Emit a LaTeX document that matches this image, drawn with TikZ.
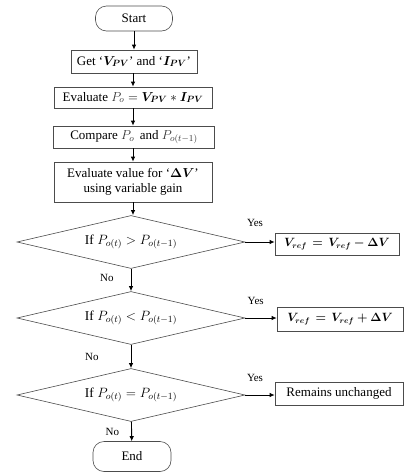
\RequirePackage{fix-cm}
\documentclass[tikz,border=0pt]{standalone}
\usepackage{amsmath}
\usepackage{bm}
\usepackage{fontspec}
\setmainfont{Liberation Serif}
\usetikzlibrary{shapes.geometric,arrows.meta}

\begin{document}
\begin{tikzpicture}[x=1pt, y=-1pt,
        box/.style={draw=black!70, line width=0.6pt, inner sep=2pt, align=center, font=\fontsize{13}{15.5}\selectfont},
        term/.style={box, rounded corners=11pt},
        decision/.style={draw=black!70, line width=0.6pt, diamond, aspect=4.3, inner sep=0pt, minimum width=228, minimum height=53, font=\fontsize{13.5}{16}\selectfont},
        flow/.style={-{Latex[length=5pt,width=4.5pt]}, line width=0.9pt},
        tag/.style={font=\fontsize{11}{13}\selectfont, inner sep=0pt}]
        \useasboundingbox (0,0) rectangle (404,474);

        \node [term, minimum width=77, minimum height=25] (start) at (134,18.5) {Start};
        \node [box, minimum width=126, minimum height=23] (get) at (134,61.5) {Get `$\bm{V_{PV}}$' and `$\bm{I_{PV}}$'};
        \node [box, minimum width=158, minimum height=21] (eval) at (133,97.5) {Evaluate $\textcolor{black!80}{P_o} = \bm{V_{PV}} * \bm{I_{PV}}$};
        \node [box, minimum width=161, minimum height=22] (comp) at (134,137) {Compare $\textcolor{black!80}{P_o}$\, and $\textcolor{black!80}{P_{o(t-1)}}$};
        \node [box, minimum width=158, minimum height=40] (gain) at (133,182) {Evaluate value for `$\bm{\Delta V}$'\\using variable gain};

        \node [decision] (dgt) at (131,242) {If $P_{o(t)} > P_{o(t-1)}$};
        \node [decision] (dlt) at (131,318) {If $P_{o(t)} < P_{o(t-1)}$};
        \node [decision] (deq) at (131,395) {If $P_{o(t)} = P_{o(t-1)}$};

        \node [box, font=\fontsize{12}{14}\selectfont, minimum width=124, minimum height=22] (dec) at (337,244) {$\bm{V_{ref} \,=\, V_{ref} - \Delta V}$};
        \node [box, font=\fontsize{12}{14}\selectfont, minimum width=126, minimum height=24] (inc) at (340,319) {$\bm{V_{ref} \,=\, V_{ref} + \Delta V}$};
        \node [box, minimum width=128, minimum height=23] (same) at (339,393.5) {Remains unchanged};

        \node [term, minimum width=78, minimum height=30] (end) at (132,456.5) {End};

        \draw [flow] (start) -- (get);
        \draw [flow] (get.south -| eval) -- (eval);
        \draw [flow] (eval) -- (eval |- comp.north);
        \draw [flow] (comp.south -| gain) -- (gain);
        \draw [flow] (gain) -- (gain |- dgt.north);

        \draw [flow] (dgt.east) -- node [tag, pos=0.33, above=15pt] {Yes} (dgt.east -| dec.west);
        \draw [flow] (dlt.east) -- node [tag, pos=0.33, above=13pt] {Yes} (dlt.east -| inc.west);
        \draw [flow] (deq.east) -- node [tag, pos=0.33, above=13pt] {Yes} (deq.east -| same.west);

        \draw [flow] (dgt) -- node [tag, pos=0.42, left=17pt] {No} (dlt);
        \draw [flow] (dlt) -- node [tag, pos=0.5, left=32pt] {No} (deq);
        \draw [flow] (deq) -- node [tag, pos=0.55, left=12pt] {No} (end);
    \end{tikzpicture}
\end{document}
